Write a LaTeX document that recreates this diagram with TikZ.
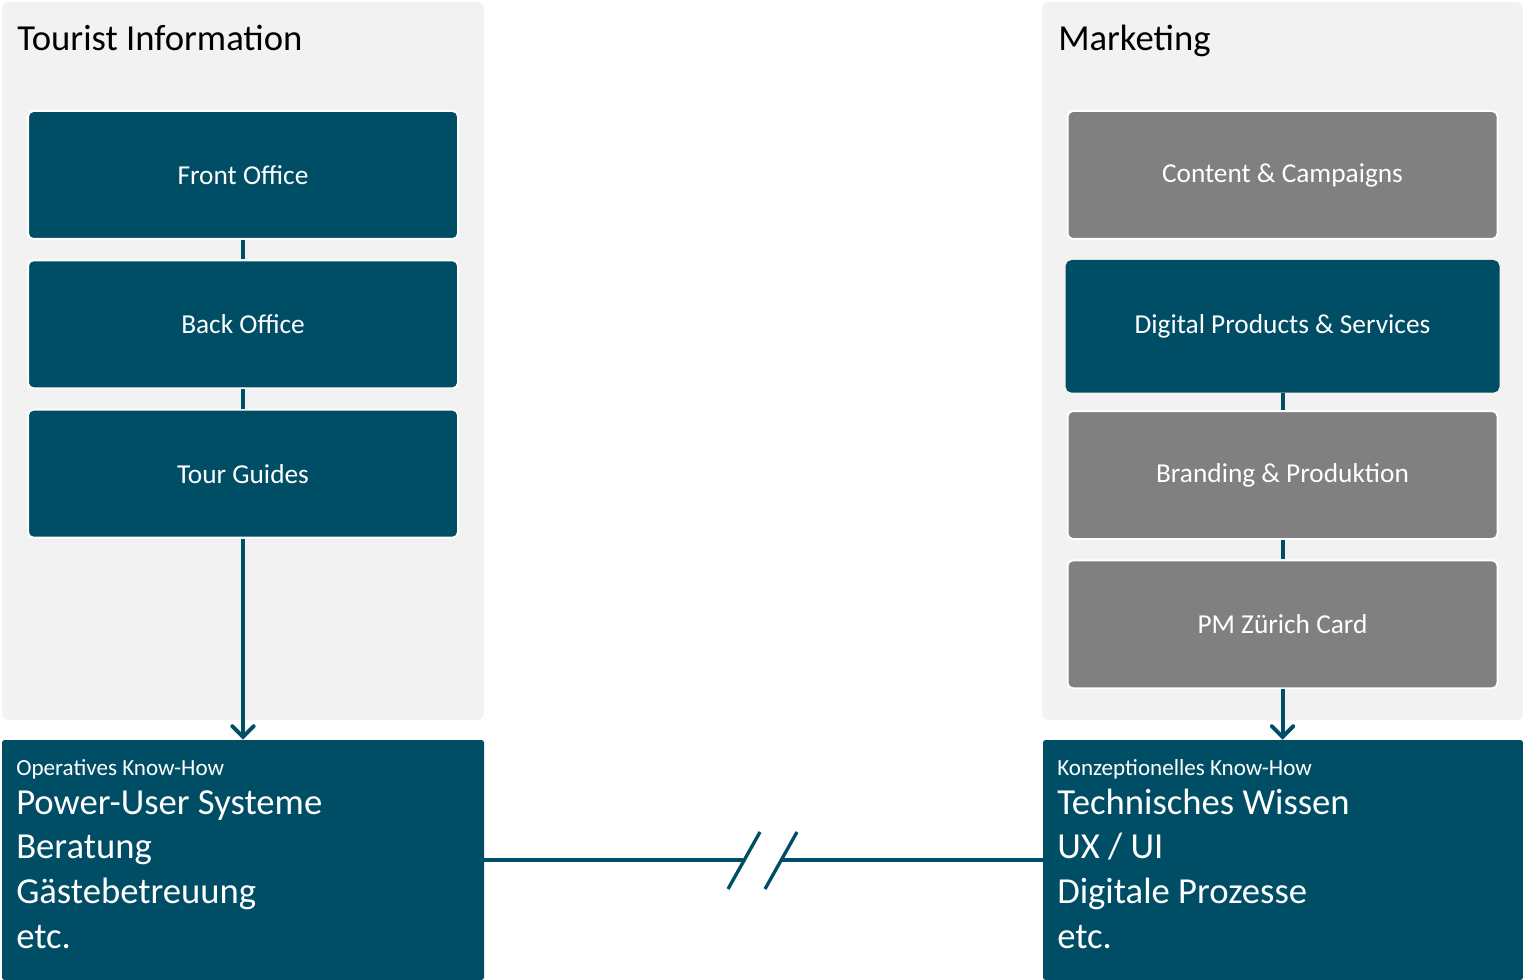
\documentclass[tikz,border=0pt]{standalone}
\usepackage{fontspec}
\setmainfont{Carlito}
\usetikzlibrary{positioning, arrows.meta}
\definecolor{petrol}{RGB}{0,77,102}
\definecolor{boxgray}{RGB}{128,128,128}
\definecolor{panelgray}{RGB}{242,242,242}

\begin{document}
\begin{tikzpicture}[x=0.75pt, y=-0.75pt,
        node distance=14.5pt,
        panel/.style={rectangle, fill=panelgray, rounded corners=5pt, minimum width=361.5pt, minimum height=538.5pt, inner sep=0pt},
        heading/.style={anchor=base west, inner sep=0pt, font=\fontsize{27.5}{32}\selectfont},
        unit/.style={rectangle, rounded corners=4pt, fill=petrol, draw=white, line width=1.5pt, text=white, minimum width=322.5pt, minimum height=96pt, inner sep=0pt, font=\fontsize{20.5}{24}\selectfont},
        unitgray/.style={unit, fill=boxgray},
        know/.style={rectangle, fill=petrol, rounded corners=2pt, minimum height=180pt, inner sep=0pt},
        knowhead/.style={anchor=base west, inner sep=0pt, text=white, font=\fontsize{17.3}{20}\selectfont},
        knowlist/.style={anchor=base west, inner sep=0pt, text=white, align=left, font=\fontsize{27.5}{33.5}\selectfont},
        link/.style={draw=petrol, line width=3pt},
        flow/.style={draw=petrol, line width=3pt, -{Straight Barb[length=8pt, width=16pt, line cap=round]}},
        cut/.style={draw=petrol, line width=2.5pt},]

        \useasboundingbox (0,0) rectangle (1523,980);

        % panels
        \node[panel] (ti) at (243,361) {};
        \node[panel, minimum width=360.75pt] (mk) at (1282.5,361) {};
        \node[heading] (ti_t) at (17,51) {Tourist Information};
        \node[heading] (mk_t) at (1058,51) {Marketing};

        % tourist information
        \node[unit] (fo) at (243,175) {Front Office};
        \node[unit] (bo) [below=of fo] {Back Office};
        \node[unit] (tg) [below=of bo] {Tour Guides};

        % marketing
        \node[unitgray] (cc) at (1282.5,175) {Content \& Campaigns};
        \node[unit, draw=petrol, minimum width=324pt, minimum height=98pt] (dps) [below=15pt of cc] {Digital Products \& Services};
        \node[unitgray] (bp) [below=13pt of dps] {Branding \& Produktion};
        \node[unitgray] (pm) [below=of bp] {PM Zürich Card};

        % know-how
        \node[know, minimum width=361.5pt] (opk) at (243,860) {};
        \node[know, minimum width=360pt] (kok) at (1283,860) {};
        \node[knowhead] (opk_h) at (16,775) {Operatives Know-How};
        \node[knowlist] (opk_l) at (16,948) {Power-User Systeme\\Beratung\\Gästebetreuung\\etc.};
        \node[knowhead] (kok_h) at (1057,775) {Konzeptionelles Know-How};
        \node[knowlist] (kok_l) at (1057,948) {Technisches Wissen\\UX / UI\\Digitale Prozesse\\etc.};

        \path[link] (fo) -- (bo);
        \path[link] (bo) -- (tg);
        \path[link] (dps) -- (bp);
        \path[link] (bp) -- (pm);

        \path[flow] (tg) -- (opk);
        \path[flow] (pm.south) -- (pm.south |- kok.north);

        % interrupted line
        \coordinate (c_l) at (743,860);
        \coordinate (c_r) at (782,860);
        \path[cut] (opk) -- (c_l);
        \path[cut] (c_r) -- (kok);
        \path[cut] (728,889) -- (760,832);
        \path[cut] (765,889) -- (797,832);

    \end{tikzpicture}
\end{document}
